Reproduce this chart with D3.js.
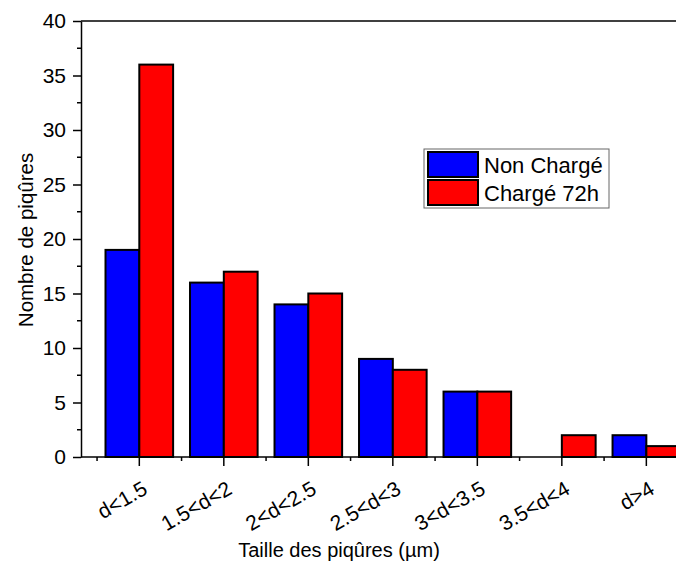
<!DOCTYPE html>
<html><head><meta charset="utf-8">
<script src="https://cdn.jsdelivr.net/npm/d3@7"></script>
<style>body{margin:0;background:#fff}text{font-family:Arial,"Liberation Sans",sans-serif;fill:#000}</style>
</head><body><svg id="c" width="676" height="566"></svg>
<script>
const categories = ["d<1.5","1.5<d<2","2<d<2.5","2.5<d<3","3<d<3.5","3.5<d<4","d>4"];
const nonCharge = [19,16,14,9,6,0,2];
const charge72 = [36,17,15,8,6,2,1];
const seriesNames = ["Non Chargé","Chargé 72h"];
const seriesColors = ["#0000ff","#ff0000"];
const yTicks = [0,5,10,15,20,25,30,35,40];

const svg = d3.select("#c");
const x = d3.scaleLinear().domain([0.31,7.7]).range([81,705.5]);
const y = d3.scaleLinear().domain([0,40]).range([457,21]);
const bw = x(1.4)-x(1);

// bars
const series=[nonCharge,charge72];
series.forEach((vals,si)=>{
  svg.append("g").selectAll("rect").data(vals).join("rect")
    .attr("x",(d,i)=>si===0? x(i+1)-bw : x(i+1))
    .attr("y",d=>y(d)).attr("width",bw).attr("height",d=>y(0)-y(d))
    .attr("fill",seriesColors[si]).attr("stroke","#000").attr("stroke-width",2);
});

// y axis
const ya = d3.axisLeft(y).tickValues(yTicks).tickSize(8).tickSizeOuter(0).tickPadding(7);
const yg = svg.append("g").attr("transform","translate(81,0)").call(ya);
yg.selectAll("text").style("font-size","21px");
yg.selectAll("line,path").attr("stroke","#000").attr("stroke-width",1.5);
svg.append("g").selectAll("line").data(d3.range(2.5,40,5)).join("line")
  .attr("x1",77).attr("x2",81).attr("y1",d=>y(d)).attr("y2",d=>y(d)).attr("stroke","#000").attr("stroke-width",1.5);

// x axis
const xg = svg.append("g").attr("transform","translate(0,457)");
xg.append("line").attr("x1",81).attr("x2",676).attr("stroke","#000").attr("stroke-width",1.5);
xg.selectAll(".maj").data(categories).join("line").attr("class","maj")
  .attr("x1",(d,i)=>x(i+1)).attr("x2",(d,i)=>x(i+1)).attr("y1",0).attr("y2",9).attr("stroke","#000").attr("stroke-width",1.5);
xg.selectAll(".min").data(d3.range(0.5,8,1)).join("line").attr("class","min")
  .attr("x1",d=>x(d)).attr("x2",d=>x(d)).attr("y1",0).attr("y2",4).attr("stroke","#000").attr("stroke-width",1.5);
xg.selectAll("text").data(categories).join("text")
  .attr("transform",(d,i)=>`translate(${x(i+1)+2},${23}) rotate(-30)`)
  .attr("text-anchor","end").attr("dy","0.71em").style("font-size","21px").text(d=>d);

// top line
svg.append("line").attr("x1",81).attr("x2",676).attr("y1",21).attr("y2",21).attr("stroke","#000").attr("stroke-width",1.5);

// titles
svg.append("text").attr("x",339).attr("y",557).attr("text-anchor","middle").style("font-size","20px").text("Taille des piqûres (µm)");
svg.append("text").attr("transform","translate(33,240) rotate(-90)").attr("text-anchor","middle").style("font-size","20.5px").text("Nombre de piqûres");

// legend
const lg = svg.append("g");
lg.append("rect").attr("x",424).attr("y",149).attr("width",185).attr("height",59).attr("fill","#fff").attr("stroke","#666").attr("stroke-width",1);
seriesNames.forEach((n,i)=>{
  lg.append("rect").attr("x",428).attr("y",152+i*28).attr("width",50).attr("height",25)
    .attr("fill",seriesColors[i]).attr("stroke","#000").attr("stroke-width",2);
  lg.append("text").attr("x",484).attr("y",165+i*28).attr("dy","0.36em").style("font-size","22px").text(n);
});
</script></body></html>
